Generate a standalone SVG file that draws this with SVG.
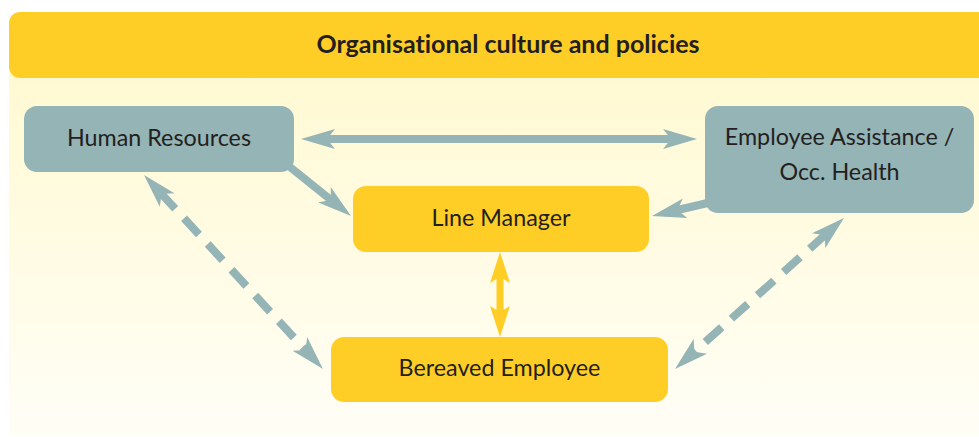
<svg xmlns="http://www.w3.org/2000/svg" width="979" height="437" viewBox="0 0 979 437">
  <defs>
    <linearGradient id="panelFill" x1="0" y1="0" x2="0" y2="1">
      <stop offset="0" stop-color="#fff9d2"/>
      <stop offset="1" stop-color="#fffef6"/>
    </linearGradient>
    <!-- notched arrowheads; refX places the shaft end just inside the notch -->
    <marker id="headTeal" markerUnits="userSpaceOnUse" viewBox="0 -11 34 22" refX="10" refY="0" markerWidth="34" markerHeight="22" orient="auto-start-reverse">
      <path d="M0,-10 L34,0 L0,10 L8,0 Z" fill="#95b4b6"/>
    </marker>
    <marker id="headGold" markerUnits="userSpaceOnUse" viewBox="0 -11 31 22" refX="9" refY="0" markerWidth="31" markerHeight="22" orient="auto-start-reverse">
      <path d="M0,-10 L31,0 L0,10 L6,0 Z" fill="#ffce26"/>
    </marker>
    <style>
      .teal { fill: #95b4b6; }
      .gold { fill: #ffce26; }
      text { font-family: Lato, "Open Sans", "Liberation Sans", sans-serif; fill: #231f20; text-anchor: middle; font-variant-ligatures: none; }
      .label { font-size: 23.3px; }
      .title { font-size: 25px; font-weight: bold; }
      .link { stroke: #95b4b6; stroke-width: 8; fill: none; marker-start: url(#headTeal); marker-end: url(#headTeal); }
      .oneway { stroke: #95b4b6; stroke-width: 8; fill: none; marker-end: url(#headTeal); }
      .dashed { stroke-dasharray: 22 13; }
      .goldlink { stroke: #ffce26; stroke-width: 7; fill: none; marker-start: url(#headGold); marker-end: url(#headGold); }
    </style>
  </defs>

  <!-- backdrop panel and title band -->
  <g id="panel">
    <rect x="9" y="70" width="980" height="365" fill="url(#panelFill)"/>
    <rect x="9" y="12" width="990" height="66" rx="11" class="gold"/>
    <text x="508" y="53" class="title">Organisational culture and policies</text>
  </g>

  <!-- connectors -->
  <g id="connectors">
    <line x1="325" y1="139" x2="673" y2="139" class="link"/>
    <line x1="285" y1="163" x2="332.3" y2="201" class="oneway"/>
    <line x1="712" y1="202" x2="675.4" y2="210.5" class="oneway"/>
    <line x1="500" y1="274" x2="500" y2="315" class="goldlink"/>
    <line x1="160.3" y1="192.6" x2="306.7" y2="351.4" class="link dashed"/>
    <line x1="826.1" y1="234" x2="692.9" y2="353" class="link dashed"/>
  </g>

  <g id="human-resources">
    <rect x="24" y="106" width="270" height="66" rx="13" class="teal"/>
    <text x="159" y="146" class="label">Human Resources</text>
  </g>

  <g id="employee-assistance">
    <rect x="705" y="106" width="269" height="107" rx="13" class="teal"/>
    <text x="839.5" y="145" class="label">Employee Assistance /</text>
    <text x="839.5" y="180" class="label">Occ. Health</text>
  </g>

  <g id="line-manager">
    <rect x="353" y="186" width="296" height="66" rx="13" class="gold"/>
    <text x="501" y="226" class="label">Line Manager</text>
  </g>

  <g id="bereaved-employee">
    <rect x="331" y="337" width="337" height="65" rx="13" class="gold"/>
    <text x="499.5" y="376" class="label">Bereaved Employee</text>
  </g>
</svg>
